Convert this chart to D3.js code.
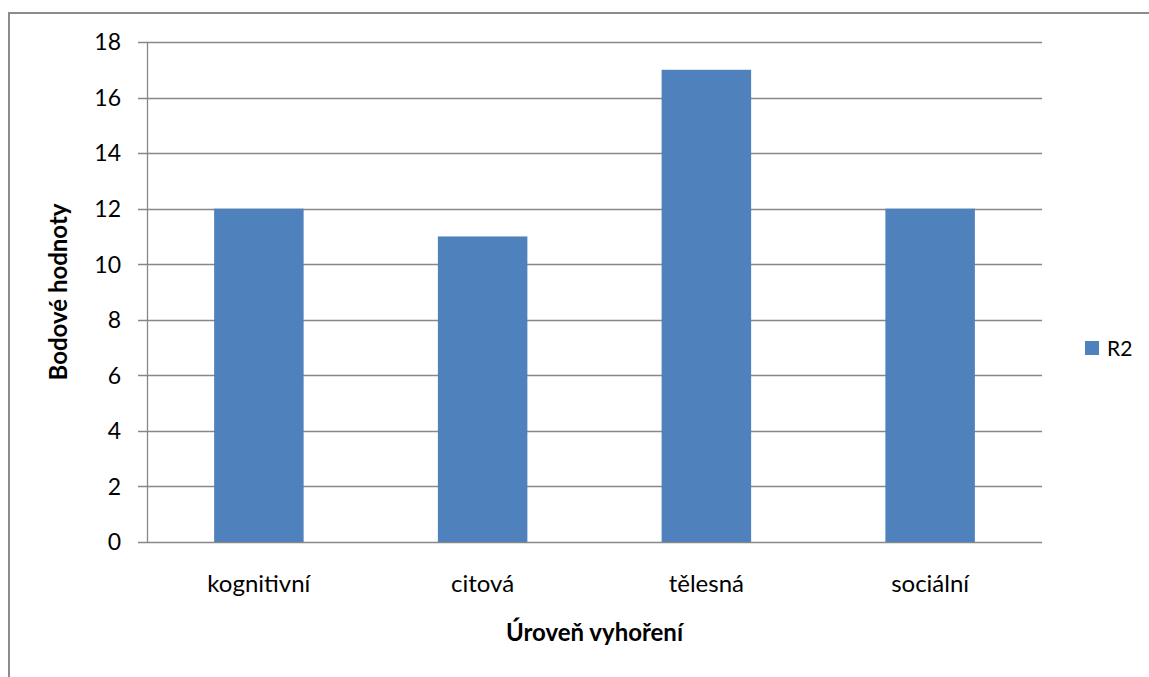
<!DOCTYPE html>
<html>
<head>
<meta charset="utf-8">
<script src="https://cdn.jsdelivr.net/npm/d3@7"></script>
<style>
	body { margin: 0; background: #fff; }
	text { font-family: Lato, "Open Sans", sans-serif; fill: #000; }
</style>
</head>
<body>
<svg width="1149" height="677"></svg>
<script>
let categories = ['kognitivní', 'citová', 'tělesná', 'sociální']
let values = [12, 11, 17, 12]
let seriesName = 'R2'
let yTicks = [0, 2, 4, 6, 8, 10, 12, 14, 16, 18]

let svg = d3.select('svg')
let margin = {left: 147, top: 42, right: 1042, bottom: 542}

// outer frame, runs off the right and bottom edge
svg.append('rect')
	.attr('x', 9).attr('y', 13)
	.attr('width', 1160).attr('height', 700)
	.attr('fill', 'none')
	.attr('stroke', '#8c8c8c')
	.attr('stroke-width', 2)

let x = d3.scaleBand()
	.domain(categories)
	.range([margin.left, margin.right])
	.paddingInner(0.6)
	.paddingOuter(0.3)

let y = d3.scaleLinear()
	.domain([0, 18])
	.range([margin.bottom, margin.top])

let g = svg.append('g')

g.selectAll('line.grid')
	.data(yTicks)
	.join('line')
	.attr('class', 'grid')
	.attr('x1', margin.left - 9)
	.attr('x2', margin.right)
	.attr('y1', d => Math.round(y(d)) + 0.5)
	.attr('y2', d => Math.round(y(d)) + 0.5)
	.attr('stroke', '#878787')
	.attr('stroke-width', 1.3)

g.selectAll('text.ytick')
	.data(yTicks)
	.join('text')
	.attr('class', 'ytick')
	.attr('x', 121)
	.attr('y', d => y(d))
	.attr('dy', '0.36em')
	.attr('text-anchor', 'end')
	.attr('font-size', 23)
	.text(d => d)

g.selectAll('rect.bar')
	.data(values)
	.join('rect')
	.attr('class', 'bar')
	.attr('x', (d, i) => x(categories[i]))
	.attr('width', x.bandwidth())
	.attr('y', d => y(d))
	.attr('height', d => y(0) - y(d))
	.attr('fill', '#4f81bd')

// y axis line
g.append('line')
	.attr('x1', margin.left + 0.5).attr('x2', margin.left + 0.5)
	.attr('y1', margin.top).attr('y2', margin.bottom)
	.attr('stroke', '#878787')
	.attr('stroke-width', 1.3)

g.selectAll('text.xtick')
	.data(categories)
	.join('text')
	.attr('class', 'xtick')
	.attr('x', d => x(d) + x.bandwidth() / 2)
	.attr('y', 592)
	.attr('text-anchor', 'middle')
	.attr('font-size', 24)
	.text(d => d)

svg.append('text')
	.attr('x', (margin.left + margin.right) / 2)
	.attr('y', 641)
	.attr('text-anchor', 'middle')
	.attr('font-size', 24)
	.attr('font-weight', 'bold')
	.text('Úroveň vyhoření')

svg.append('text')
	.attr('transform', 'translate(67,292) rotate(-90)')
	.attr('text-anchor', 'middle')
	.attr('font-size', 24)
	.attr('font-weight', 'bold')
	.text('Bodové hodnoty')

// legend
svg.append('rect')
	.attr('x', 1085).attr('y', 341)
	.attr('width', 14).attr('height', 14)
	.attr('fill', '#4f81bd')
svg.append('text')
	.attr('x', 1107).attr('y', 356)
	.attr('font-size', 21)
	.text(seriesName)
</script>
</body>
</html>
